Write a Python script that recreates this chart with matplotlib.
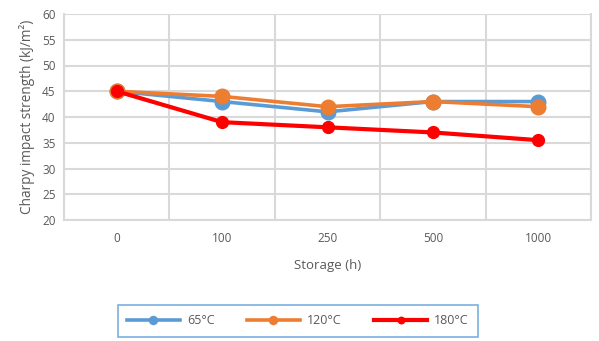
import matplotlib.pyplot as plt
import numpy as np

storage = ['0', '100', '250', '500', '1000']
t65 = [45, 43, 41, 43, 43]
t120 = [45, 44, 42, 43, 42]
t180 = [45, 39, 38, 37, 35.5]

plt.rcParams['font.family'] = ['Open Sans', 'DejaVu Sans']
grey = '#595959'
gridc = '#d9d9d9'

fig = plt.figure(figsize=(5.99, 3.41), dpi=100)
ax = fig.add_axes([64 / 599, 1 - 220 / 341, 527 / 599, 206 / 341])

x = np.arange(len(storage))
ax.plot(x, t65, color='#5b9bd5', lw=2.6, marker='o', ms=10.5, label='65°C', zorder=3)
ax.plot(x, t120, color='#ed7d31', lw=2.6, marker='o', ms=10.5, label='120°C', zorder=4)
ax.plot(x, t180, color='#ff0000', lw=3.0, marker='o', ms=8.5, label='180°C', zorder=5)

ax.set_xlim(-0.5, len(storage) - 0.5)
ax.set_ylim(20, 60)
ax.set_yticks(range(20, 61, 5))
ax.set_xticks(x)
ax.set_xticklabels(storage)
ax.set_xticks(np.arange(-0.5, len(storage)), minor=True)

ax.grid(axis='y', which='major', color=gridc, lw=1.5)
ax.grid(axis='x', which='minor', color=gridc, lw=1.5)
ax.set_axisbelow(True)
ax.spines['top'].set_visible(False)
for s in ['left', 'bottom', 'right']:
    ax.spines[s].set_color(gridc)
    ax.spines[s].set_linewidth(1.5)

ax.tick_params(which='both', length=0, colors=grey, labelsize=8.5)
ax.tick_params(axis='x', pad=9)
ax.tick_params(axis='y', pad=6)
ax.set_xlabel('Storage (h)', color=grey, fontsize=9.5, labelpad=10)
ax.set_ylabel('Charpy impact strength (kJ/m²)', color=grey, fontsize=9.8, labelpad=5)

leg = fig.legend(loc='center', bbox_to_anchor=(298 / 599, 1 - 321 / 341), ncol=3,
                 frameon=True, fancybox=False, fontsize=9, markerscale=0.55,
                 handlelength=4.2, columnspacing=2.6, borderpad=0.75,
                 handletextpad=0.6, labelcolor=grey)
leg.get_frame().set_edgecolor('#5b9bd5')
leg.get_frame().set_linewidth(1.2)

fig.savefig('out.png', dpi=100)
